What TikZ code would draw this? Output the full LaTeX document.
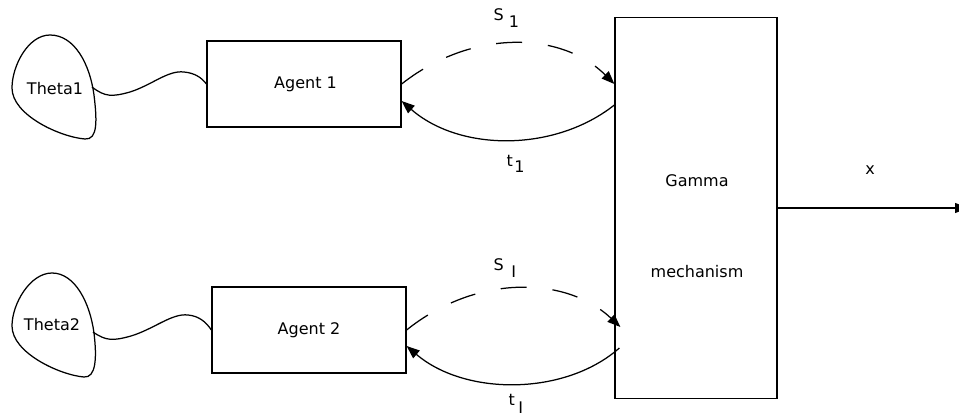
\documentclass[tikz,border=0pt]{standalone}
\usepackage{fontspec}
\setmainfont{DejaVu Sans}
\usetikzlibrary{arrows.meta,calc}
\begin{document}
\begin{tikzpicture}[x=1pt,y=-1pt, line width=1.25pt,
  every node/.style={font=\fontsize{16}{19}\selectfont},
  box/.style={draw, rectangle, inner sep=0pt},
  tip/.style={-{Triangle[length=13pt,width=10pt]}},
  dsh/.style={dash pattern=on 26pt off 26pt},
  lbl/.style={inner sep=0pt, anchor=base west}]
\useasboundingbox (0,0) rectangle (959,417);
% boxes
\node[box, minimum width=194pt, minimum height=86pt] (a1) at (304,84) {\hspace{3pt}Agent 1};
\node[box, minimum width=194pt, minimum height=86pt] (a2) at (309,330) {Agent 2};
\node[box, minimum width=162pt, minimum height=381pt] (g) at (696,208) {};
\node (gt1) at (697,181) {Gamma};
\node (gt2) at (697,272) {mechanism};
% blobs
\node (th1) at (55,89) {Theta1};
\node (th2) at (52,325) {Theta2};
\draw (50,35) .. controls (75,35) and (90,65) .. (94,95) .. controls (97,120) and (98,140) .. (85,139)
  .. controls (60,137) and (12,115) .. (12,88) .. controls (12,66) and (28,35) .. (50,35) -- cycle;
\begin{scope}[shift={(0,238)}]
\draw (52,35) .. controls (75,35) and (90,65) .. (94,95) .. controls (97,120) and (96,140) .. (84,139)
  .. controls (60,137) and (12,115) .. (12,88) .. controls (12,66) and (30,35) .. (52,35) -- cycle;
\end{scope}
\coordinate (w1) at (92,87);
\coordinate (w2) at (93,332);
\draw (w1) .. controls (105,97) and (112,97) .. (130,92) .. controls (152,85) and (168,70) .. (184,72)
  .. controls (195,73) and (202,78) .. (a1.west);
\draw (w2) .. controls (106,341) and (113,341) .. (131,336) .. controls (154,329) and (172,313) .. (188,315)
  .. controls (199,316) and (206,322) .. (a2.west);
% top exchange
\draw[dsh, tip] (a1.east) .. controls (470,30) and (560,30) .. (g.west |- a1.east);
\draw[tip] ($(g.west |- a1.east)+(0,21)$) .. controls (555,152) and (460,152) .. ($(a1.east)+(0,17)$);
% bottom exchange
\draw[dsh, tip] (a2.east) .. controls (475,275) and (565,275) .. ($(g.west |- a2.east)+(6,-3)$);
\draw[tip] ($(g.west |- a2.east)+(5,18)$) .. controls (565,396) and (465,396) .. ($(a2.east)+(0,16)$);
% labels
\node[lbl] (s1) at (493,21) {S\hspace{5pt}\raisebox{-7pt}{1}};
\node[lbl] (t1) at (506,167) {t\hspace{1.5pt}\raisebox{-6pt}{1}};
\node[lbl] (sI) at (493,270) {S\hspace{7.5pt}\raisebox{-7pt}{I}};
\node[lbl] (tI) at (508,405) {t\hspace{3.5pt}\raisebox{-8pt}{I}};
% output
\coordinate (xend) at (968,208);
\draw[tip] (g.east) -- (xend);
\node (xl) at (870,170) {x};
\end{tikzpicture}
\end{document}
